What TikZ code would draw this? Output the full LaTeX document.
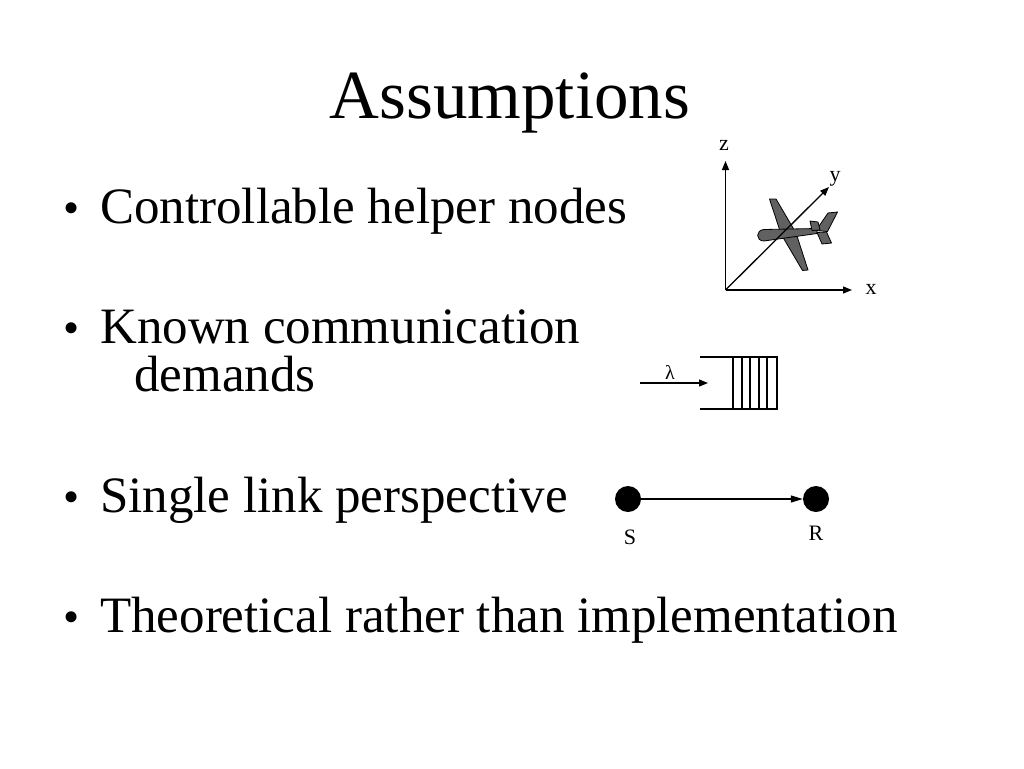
\documentclass[tikz,border=0pt]{standalone}
\usepackage{fontspec}
\setmainfont{Liberation Serif}
\usetikzlibrary{arrows.meta}
\begin{document}
\begin{tikzpicture}[x=1pt,y=-1pt,
  txt/.style={anchor=base west,inner sep=0pt,font=\fontsize{51}{60}\selectfont},
  bul/.style={anchor=base,inner sep=0pt,font=\fontsize{46}{52}\selectfont},
  small/.style={inner sep=0pt,font=\fontsize{22}{26}\selectfont},
  axis/.style={line width=1.3pt,-{Triangle[length=9pt,width=7pt]}},
  qline/.style={line width=2pt},
  plane/.style={fill=black!62,draw=black,line width=0.8pt,line join=round},
  dot/.style={circle,fill=black,minimum size=26pt,inner sep=0pt}]
\useasboundingbox[fill=white] (0,0) rectangle (1024,768);
% title
\node[anchor=base,inner sep=0pt,font=\fontsize{69}{80}\selectfont] (title) at (510,118) {Assumptions};
% bullets
\node[bul] (b1) at (72,223) {•};
\node[txt] (t1) at (100,223) {Controllable helper nodes};
\node[bul] (b2) at (72,343) {•};
\node[txt] (t2) at (100,343) {Known communication};
\node[txt] (t2b) at (134,391) {demands};
\node[bul] (b3) at (72,512) {•};
\node[txt] (t3) at (100,512) {Single link perspective};
\node[bul] (b4) at (72,632) {•};
\node[txt] (t4) at (100,632) {Theoretical rather than implementation};
% axes figure
\coordinate (o) at (725.5,290);
\coordinate (ztip) at (725.5,161);
\coordinate (xtip) at (852,290);
\coordinate (ytip) at (829,187);
% airplane
\draw[plane] (769.5,199) -- (776,199) -- (796,233) -- (808,270) -- (802.5,270.5) -- (781,234) -- cycle;
\draw[plane] (817,228.5) -- (764,229.5) .. controls (755.5,230) and (755.5,241) .. (764,241) -- (817,233.5) -- cycle;
\draw[plane] (816,230.5) -- (828,213) -- (837.5,212) -- (827.5,231.5) -- cycle;
\draw[plane] (810,221) -- (818,222) -- (820,230) -- (812,230.5) -- cycle;
\draw[plane] (817,232.5) -- (822,244) -- (831.5,243) -- (826.5,232) -- cycle;
\draw[axis] (o) -- (ztip);
\draw[axis] (o) -- (xtip);
\draw[axis] (o) -- (ytip);
\node[small] (zl) at (724,145) {z};
\node[small] (xl) at (871,289) {x};
\node[small] (yl) at (835,179) {y};
% queue
\coordinate (qin) at (640,383);
\coordinate (qend) at (708,383);
\draw[line width=1.3pt,-{Triangle[length=9pt,width=7pt]}] (qin) -- (qend);
\node[inner sep=0pt,font=\fontsize{20}{24}\selectfont] (lam) at (670,372) {λ};
\coordinate (q1) at (700,357);
\coordinate (q2) at (777,357);
\coordinate (q3) at (777,409);
\coordinate (q4) at (700,409);
\draw[qline] (q1) -- (q2) -- (q3) -- (q4);
\foreach \xx in {733,741.5,750,758.5,767} {\draw[qline] (\xx,357) -- (\xx,409);}
% link
\node[dot] (S) at (628,499) {};
\node[dot] (R) at (816,499) {};
\draw[line width=1.3pt,-{Triangle[length=12pt,width=7pt]}] (S) -- (R);
\node[small] (Sl) at (630,537) {S};
\node[small] (Rl) at (816,533) {R};
\end{tikzpicture}
\end{document}
